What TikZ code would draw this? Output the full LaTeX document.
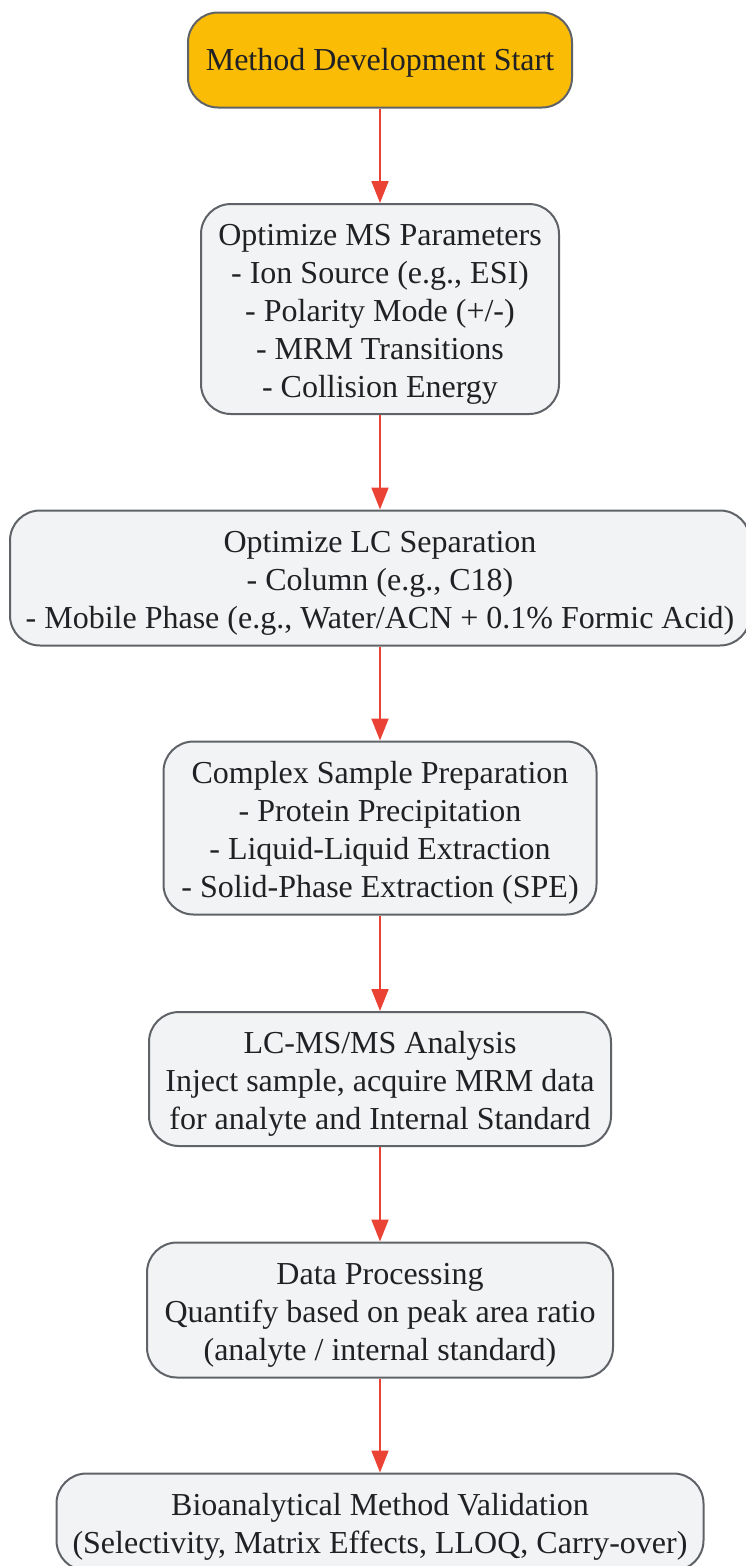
\documentclass[tikz,border=0pt]{standalone}
\usepackage{fontspec}
\setmainfont{Liberation Serif}
\usetikzlibrary{arrows.meta,positioning}
\definecolor{boxfill}{HTML}{F1F3F4}
\definecolor{boxline}{HTML}{5F6368}
\definecolor{startfill}{HTML}{FBBC05}
\definecolor{flowred}{HTML}{EA4335}
\definecolor{txt}{HTML}{202124}
\newcommand{\tstrut}[1][32]{\rule{0pt}{#1pt}}
\begin{document}
\begin{tikzpicture}[x=1pt,y=-1pt,
  box/.style={draw=boxline,fill=boxfill,line width=2pt,rounded corners=30pt,
    align=center,text=txt,font=\fontsize{32}{38}\selectfont,inner sep=0pt},
  startbox/.style={box,fill=startfill},
  flow/.style={draw=flowred,line width=2pt,-{Triangle[length=22pt,width=17pt]}}]
  \useasboundingbox (0,0) rectangle (745,1566);
  % the steps, top to bottom
  \node[startbox,minimum width=384pt,minimum height=95pt] (start) at (380,60) {\tstrut[28]Method Development Start};
  \node[box,minimum width=358pt,minimum height=210pt] (ms) at (380,309)
    {\tstrut Optimize MS Parameters\\- Ion Source (e.g., ESI)\\- Polarity Mode (+/-)\\- MRM Transitions\\- Collision Energy};
  \node[box,minimum width=740pt,minimum height=135pt] (lc) at (380,578)
    {\tstrut Optimize LC Separation\\- Column (e.g., C18)\\- Mobile Phase (e.g., Water/ACN + 0.1\% Formic Acid)};
  \node[box,minimum width=433pt,minimum height=173pt] (prep) at (380,828)
    {\tstrut Complex Sample Preparation\\- Protein Precipitation\\- Liquid-Liquid Extraction\\- Solid-Phase Extraction (SPE)};
  \node[box,minimum width=462pt,minimum height=134pt] (lcms) at (380,1079)
    {\tstrut LC-MS/MS Analysis\\Inject sample, acquire MRM data\\for analyte and Internal Standard};
  \node[box,minimum width=466pt,minimum height=135pt] (proc) at (380,1310)
    {\tstrut Data Processing\\Quantify based on peak area ratio\\(analyte / internal standard)};
  \node[box,minimum width=647pt,minimum height=97pt] (valid) at (380,1522)
    {\tstrut Bioanalytical Method Validation\\(Selectivity, Matrix Effects, LLOQ, Carry-over)};
  % connectors
  \foreach \a/\b in {start/ms,ms/lc,lc/prep,prep/lcms,lcms/proc,proc/valid}
    \draw[flow] (\a) -- (\b);
\end{tikzpicture}
\end{document}
